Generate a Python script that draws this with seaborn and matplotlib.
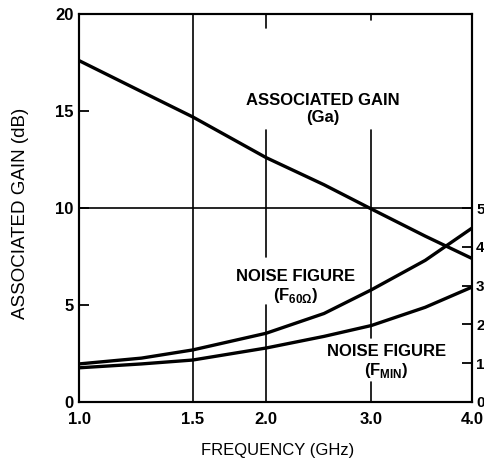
import numpy as np
import pandas as pd
import matplotlib
matplotlib.use("Agg")
import matplotlib.pyplot as plt
import seaborn as sns

# ---- data ----
freq_ghz = [1.0, 1.25, 1.5, 2.0, 2.5, 3.0, 3.5, 4.0]
assoc_gain_db = [17.6, 16.0, 14.7, 12.6, 11.2, 9.95, 8.55, 7.4]
nf_60ohm_db = [0.98, 1.13, 1.34, 1.77, 2.28, 2.89, 3.65, 4.48]
nf_min_db = [0.88, 0.98, 1.08, 1.39, 1.69, 1.97, 2.44, 2.96]

x_ticks = [1.0, 1.5, 2.0, 3.0, 4.0]
x_ticklabels = ["1.0", "1.5", "2.0", "3.0", "4.0"]
gain_ticks = [0, 5, 10, 15, 20]
nf_ticks = [0, 1, 2, 3, 4, 5]

# ---- style ----
sns.set_style("white")
plt.rcParams["font.family"] = ["Liberation Sans", "DejaVu Sans"]
plt.rcParams["text.color"] = "black"
plt.rcParams["axes.labelcolor"] = "black"
plt.rcParams["mathtext.fontset"] = "custom"
plt.rcParams["mathtext.rm"] = "Liberation Sans:bold"
plt.rcParams["mathtext.bf"] = "Liberation Sans:bold"

# frequency axis of the original graph paper (log-like, slightly distorted)
_kf = np.log(np.array([1.0, 1.5, 2.0, 3.0, 4.0]))
_kp = np.array([0.0, 0.289, 0.476, 0.744, 1.0])


def _fwd(x):
    lx = np.log(np.clip(np.asarray(x, dtype=float), 1e-9, None))
    y = np.interp(lx, _kf, _kp)
    lo = lx < _kf[0]
    hi = lx > _kf[-1]
    y = np.where(lo, _kp[0] + (lx - _kf[0]) * (_kp[1] - _kp[0]) / (_kf[1] - _kf[0]), y)
    y = np.where(hi, _kp[-1] + (lx - _kf[-1]) * (_kp[-1] - _kp[-2]) / (_kf[-1] - _kf[-2]), y)
    return y


def _inv(p):
    p = np.asarray(p, dtype=float)
    lx = np.interp(p, _kp, _kf)
    lo = p < _kp[0]
    hi = p > _kp[-1]
    lx = np.where(lo, _kf[0] + (p - _kp[0]) * (_kf[1] - _kf[0]) / (_kp[1] - _kp[0]), lx)
    lx = np.where(hi, _kf[-1] + (p - _kp[-1]) * (_kf[-1] - _kf[-2]) / (_kp[-1] - _kp[-2]), lx)
    return np.exp(lx)


fig = plt.figure(figsize=(4.85, 4.69), dpi=100)
ax = fig.add_axes([0.163, 0.143, 0.810, 0.827])
ax.set_xscale("function", functions=(_fwd, _inv))
ax2 = ax.twinx()

df_gain = pd.DataFrame({"f": freq_ghz, "g": assoc_gain_db})
df_nf = pd.DataFrame({
    "f": freq_ghz * 2,
    "nf": nf_60ohm_db + nf_min_db,
    "s": ["F60"] * len(freq_ghz) + ["FMIN"] * len(freq_ghz),
})

# grid lines of the graph paper, with gaps where the labels sit
grid_kw = dict(color="black", lw=1.2, zorder=1)
ax.axvline(1.5, **grid_kw)
for lo, hi in [(0.0, 0.25), (0.373, 0.70), (0.965, 1.0)]:
    ax.axvline(2.0, ymin=lo, ymax=hi, **grid_kw)
for lo, hi in [(0.0, 0.052), (0.165, 0.70), (0.985, 1.0)]:
    ax.axvline(3.0, ymin=lo, ymax=hi, **grid_kw)
ax.axhline(10, **grid_kw)

sns.lineplot(data=df_gain, x="f", y="g", ax=ax, color="black", lw=2.4,
             zorder=5, legend=False)
sns.lineplot(data=df_nf, x="f", y="nf", units="s", estimator=None, ax=ax2,
             color="black", lw=2.4, zorder=5, legend=False)

ax.set_xlim(1.0, 4.0)
ax.set_ylim(0, 20)
ax2.set_ylim(0, 10)
ax.set_xticks(x_ticks)
ax.set_xticklabels(x_ticklabels)
ax.minorticks_off()
ax.set_yticks(gain_ticks)
ax2.set_yticks(nf_ticks)

for a in (ax, ax2):
    for s in a.spines.values():
        s.set_visible(True)
        s.set_color("black")
        s.set_linewidth(1.5)

ax.tick_params(axis="y", direction="in", length=7, width=1.3, labelsize=12,
               pad=4, colors="black")
ax.tick_params(axis="x", direction="in", length=5, width=1.2, labelsize=12,
               pad=7, colors="black")
ax2.tick_params(axis="y", direction="in", length=7, width=1.3, labelsize=11,
                pad=3, colors="black")
for lab in ax.get_xticklabels() + ax.get_yticklabels() + ax2.get_yticklabels():
    lab.set_fontweight("bold")

ax.set_xlabel("FREQUENCY (GHz)", fontsize=12)
ax.set_ylabel("ASSOCIATED GAIN (dB)", fontsize=13.5)
ax.xaxis.set_label_coords(0.506, -0.124)
ax.xaxis.label.set_va("center")
ax.yaxis.set_label_coords(-0.150, 0.487)
ax.yaxis.label.set_va("center")
ax2.set_ylabel("")

ax.text(2.49, 15.1, "ASSOCIATED GAIN\n(Ga)", ha="center", va="center",
        fontsize=12, fontweight="bold", linespacing=1.15, zorder=6)
ax.text(2.24, 5.93, "NOISE FIGURE\n(F$_{60\Omega}$)", ha="center", va="center",
        fontsize=12, fontweight="bold", linespacing=1.15, zorder=6)
ax.text(3.13, 2.06, "NOISE FIGURE\n(F$_{\mathrm{MIN}}$)", ha="center", va="center",
        fontsize=12, fontweight="bold", linespacing=1.15, zorder=6)

fig.savefig("out.png", dpi=100)
